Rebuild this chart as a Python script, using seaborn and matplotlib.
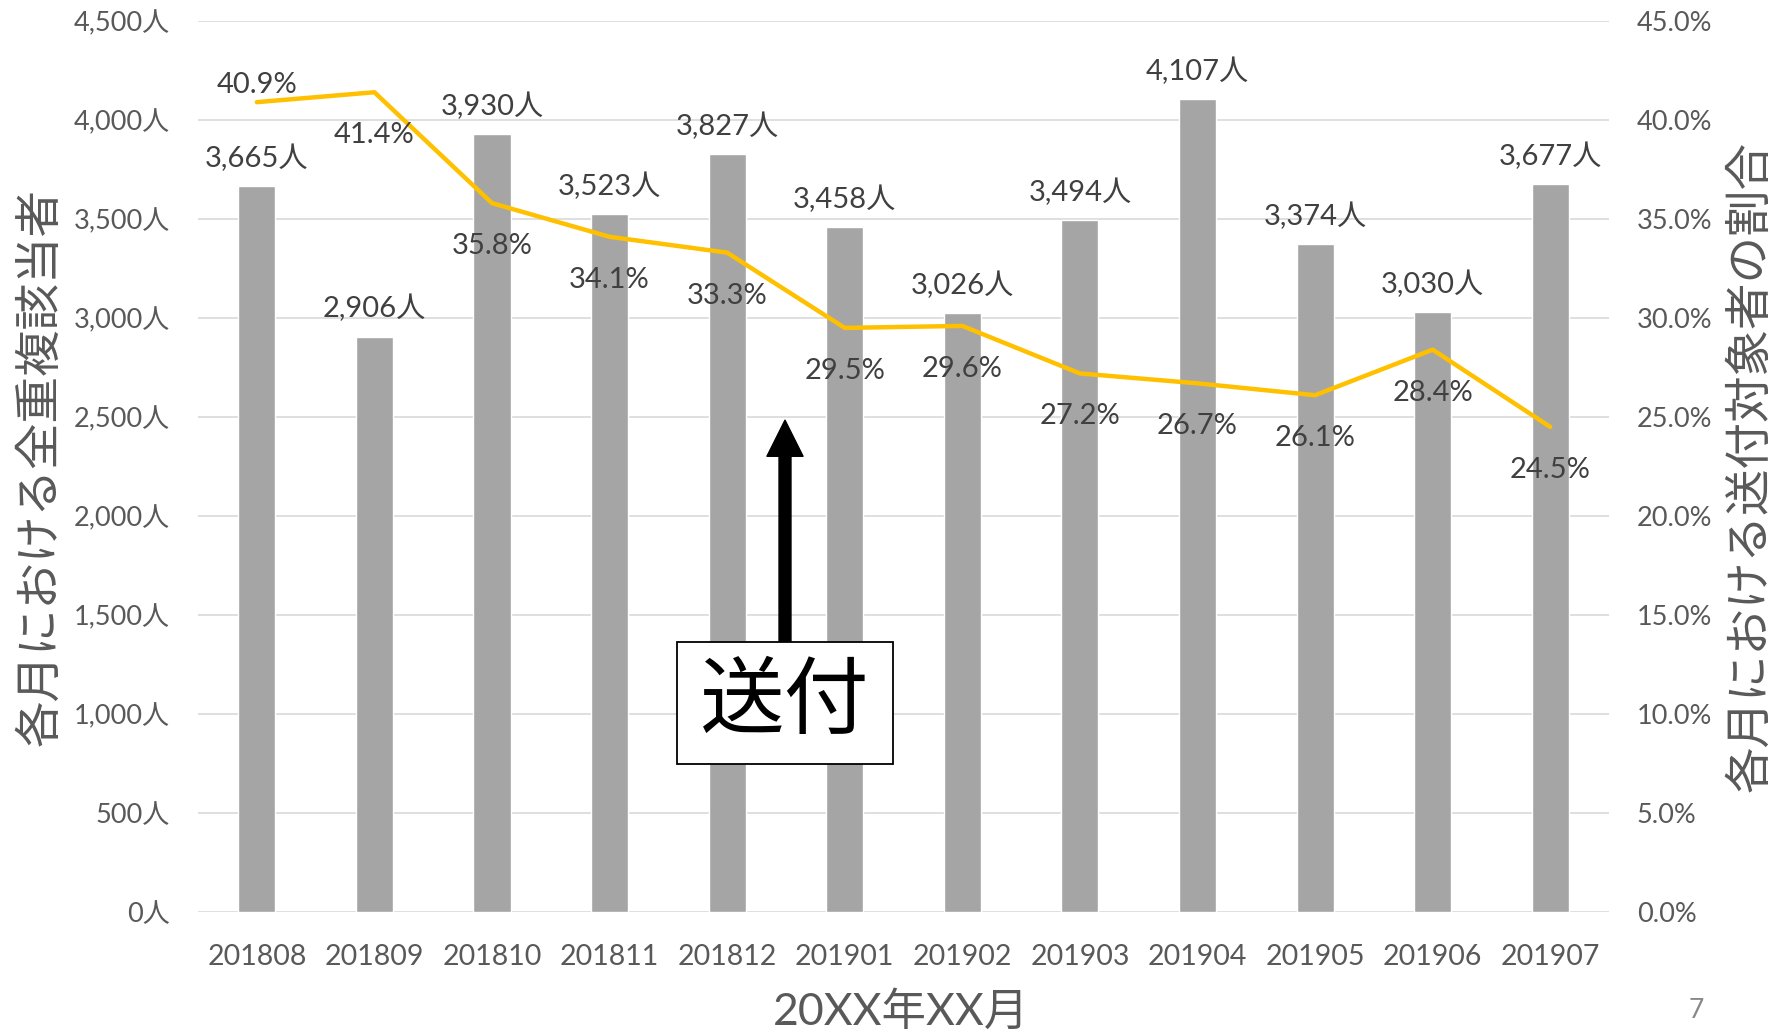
import numpy as np
import pandas as pd
import seaborn as sns
import matplotlib.pyplot as plt
from matplotlib.patches import Rectangle
from matplotlib.ticker import FuncFormatter, MultipleLocator

# data
months = ['201808', '201809', '201810', '201811', '201812', '201901',
          '201902', '201903', '201904', '201905', '201906', '201907']
counts = [3665, 2906, 3930, 3523, 3827, 3458, 3026, 3494, 4107, 3374, 3030, 3677]
rates = [40.9, 41.4, 35.8, 34.1, 33.3, 29.5, 29.6, 27.2, 26.7, 26.1, 28.4, 24.5]

df = pd.DataFrame({'month': months, 'count': counts, 'rate': np.array(rates) / 100})
df['pos'] = range(len(df))

sns.set_theme(style='white')
plt.rcParams['font.family'] = ['Lato', 'Noto Sans CJK JP', 'DejaVu Sans']

tick_c = '#595959'
lab_c = '#404040'

fig = plt.figure(figsize=(17.73, 10.33), dpi=100)
ax = fig.add_axes([0.1117, 0.1171, 0.9075 - 0.1117, 0.9797 - 0.1171])

sns.barplot(data=df, x='month', y='count', color='#A5A5A5', saturation=1,
            width=0.315, ax=ax, zorder=2)
ax.set_xlim(-0.5, len(months) - 0.5)
ax.set_ylim(0, 4500)
ax.yaxis.set_major_locator(MultipleLocator(500))
ax.yaxis.set_major_formatter(FuncFormatter(lambda v, p: f'{int(v):,}人'))
ax.grid(axis='y', color='#D9D9D9', lw=1.2, zorder=0)
ax.set_axisbelow(True)
for s in ax.spines.values():
    s.set_visible(False)
ax.tick_params(axis='y', length=0, pad=20, labelsize=19.5, labelcolor=tick_c)
ax.tick_params(axis='x', length=0, pad=23, labelsize=20.5, labelcolor=tick_c)

for i, c in enumerate(counts):
    ax.annotate(f'{c:,}人', (i, c), xytext=(0, 28), textcoords='offset pixels',
                ha='center', va='center', fontsize=21, color=lab_c)

ax.set_xlabel('20XX年XX月', fontsize=32, color=tick_c)
ax.xaxis.set_label_coords(0.498, -0.089)
ax.set_ylabel('各月における全重複該当者', fontsize=33.5, color=tick_c)
ax.yaxis.set_label_coords(-0.097, 0.5)

ax2 = ax.twinx()
sns.lineplot(data=df, x='pos', y='rate', color='#FFC000', lw=3.2, ax=ax2)
ax2.set_ylim(0, 0.45)
ax2.set_xlim(-0.5, len(months) - 0.5)
ax2.yaxis.set_major_locator(MultipleLocator(0.05))
ax2.yaxis.set_major_formatter(FuncFormatter(lambda v, p: f'{v * 100:.1f}%'))
ax2.tick_params(axis='y', length=0, pad=20, labelsize=19.5, labelcolor=tick_c)
for s in ax2.spines.values():
    s.set_visible(False)
ax2.set_ylabel('各月における送付対象者の割合', fontsize=33.5, color=tick_c, rotation=90)
ax2.yaxis.set_label_coords(1.084, 0.5)
ax2.set_xlabel('')

for i, r in enumerate(rates):
    off = 17 if i == 0 else -43
    ax2.annotate(f'{r:.1f}%', (i, r / 100), xytext=(0, off), textcoords='offset pixels',
                 ha='center', va='center', fontsize=21, color=lab_c)

# 送付 callout
ax2.annotate('', xy=(0.416, 0.552), xytext=(0.416, 0.303),
             xycoords='axes fraction', textcoords='axes fraction',
             arrowprops=dict(facecolor='black', edgecolor='black', width=8.6,
                             headwidth=26, headlength=26, shrink=0), zorder=5)
ax2.add_patch(Rectangle((0.3395, 0.1661), 0.1531, 0.1369, transform=ax2.transAxes,
                        facecolor='white', edgecolor='black', lw=1.3, zorder=6))
ax2.text(0.416, 0.2346, '送付', transform=ax2.transAxes, ha='center', va='center',
         fontsize=61, color='black', family=['Noto Sans CJK JP'], zorder=7)

fig.text(1696 / 1773, 1 - 1010 / 1033, '7', ha='center', va='center',
         fontsize=19, color='#898989')

fig.savefig('out.png', dpi=100)
